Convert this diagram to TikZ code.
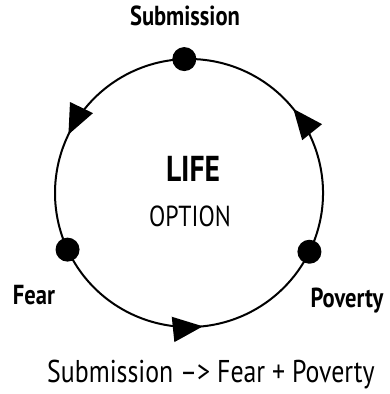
\documentclass[tikz,border=0pt]{standalone}
\usepackage{fontspec}
\setmainfont{PT Sans}[FakeStretch=0.82]
\usetikzlibrary{arrows.meta,calc,decorations.markings}

\begin{document}
\begin{tikzpicture}[x=1pt,y=1pt,
    dot/.style={circle,fill=black,inner sep=0pt,minimum size=24pt},
    cyc/.style={line width=2pt,postaction={decorate},
      decoration={markings,mark=at position #1 with {\arrow{Triangle[length=30pt,width=25pt]}}}},
    lbl/.style={anchor=base,font=\bfseries\fontsize{27.5}{30}\selectfont}]
      \useasboundingbox(0,0)rectangle(389,394);
      \coordinate (ctr) at (189,201);
      % the three stations on the ring
      \node[dot] (sub) at ($(ctr)+(92:134)$) {};
      \node[dot] (fear) at ($(ctr)+(205:134)$) {};
      \node[dot] (pov) at ($(ctr)+(334:134)$) {};
      \draw[cyc=.55] (sub.center) arc[start angle=92,end angle=205,radius=134];
      \draw[cyc=.55] (fear.center) arc[start angle=205,end angle=334,radius=134];
      \draw[cyc=.55] (pov.center) arc[start angle=-26,end angle=92,radius=134];
      \node[lbl] (subtxt) at (185,368) {Submission};
      \node[lbl] (feartxt) at (34,89) {Fear};
      \node[lbl] (povtxt) at (347,86) {Poverty};
      \node[anchor=base,font=\bfseries\fontsize{36}{40}\selectfont] (life) at (193,212) {LIFE};
      \node[anchor=base,font=\fontsize{29}{32}\selectfont] (opt) at (190,167) {OPTION};
      \node[anchor=base,font=\fontsize{31.5}{34}\selectfont] (rule) at (211,11) {Submission \textendash> Fear + Poverty};
    \end{tikzpicture}
\end{document}
